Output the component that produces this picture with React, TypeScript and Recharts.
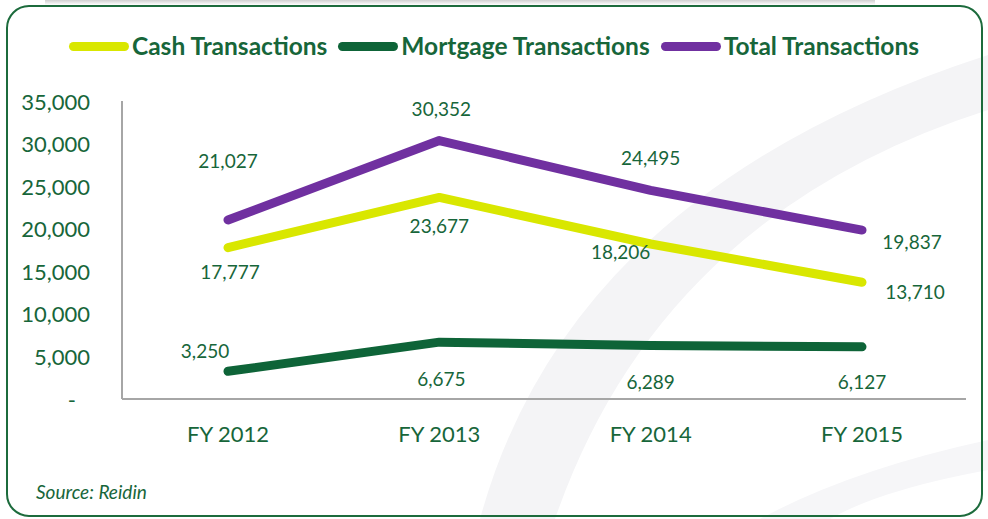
import React from 'react';
import { LineChart, Line, XAxis, YAxis, Legend } from 'recharts';

const categories = ['FY 2012', 'FY 2013', 'FY 2014', 'FY 2015'];
const cashValues = [17777, 23677, 18206, 13710];
const mortgageValues = [3250, 6675, 6289, 6127];
const totalValues = [21027, 30352, 24495, 19837];
const yTicks = [0, 5000, 10000, 15000, 20000, 25000, 30000, 35000];

const seriesNames = {
  cash: 'Cash Transactions',
  mortgage: 'Mortgage Transactions',
  total: 'Total Transactions',
};

const COLORS = {
  cash: '#D9E700',
  mortgage: '#0E6438',
  total: '#7030A0',
  text: '#17663A',
  axis: '#A6A6A6',
};

// label offsets (dx, dy) relative to each point
const cashLabelOffsets = [[2, 24], [0, 28], [-30, 8], [53, 9]];
const mortgageLabelOffsets = [[-23, -21], [2, 36], [0, 36], [0, 35]];
const totalLabelOffsets = [[0, -59], [2, -32], [0, -33], [50, 11]];

const data = categories.map((c, i) => ({
  name: c,
  cash: cashValues[i],
  mortgage: mortgageValues[i],
  total: totalValues[i],
}));

const fmt = (v: number) => v.toLocaleString('en-US');

const makeLabel = (offsets: number[][]) => (props: any) => {
  const { x, y, value, index } = props;
  const [dx, dy] = offsets[index] || [0, 0];
  return (
    <text
      x={x + dx}
      y={y + dy}
      textAnchor="middle"
      dominantBaseline="central"
      fill={COLORS.text}
      fontSize={19}
      fontFamily="Lato"
    >
      {fmt(value)}
    </text>
  );
};

const YTick = (props: any) => {
  const { x, y, payload } = props;
  const v = payload.value;
  return (
    <text
      x={v === 0 ? x - 14 : x}
      y={y}
      textAnchor="end"
      dominantBaseline="central"
      fill={COLORS.text}
      fontSize={22}
      fontFamily="Lato"
    >
      {v === 0 ? '-' : fmt(v)}
    </text>
  );
};

const XTick = (props: any) => {
  const { x, y, payload } = props;
  return (
    <text
      x={x}
      y={y}
      textAnchor="middle"
      dominantBaseline="central"
      fill={COLORS.text}
      fontSize={22}
      fontFamily="Lato"
    >
      {payload.value}
    </text>
  );
};

const LegendContent = () => {
  const items: [string, string][] = [
    [seriesNames.cash, COLORS.cash],
    [seriesNames.mortgage, COLORS.mortgage],
    [seriesNames.total, COLORS.total],
  ];
  return (
    <div style={{ display: 'flex', justifyContent: 'center', alignItems: 'center', width: 988 }}>
      {items.map(([label, color], i) => (
        <div key={label} style={{ display: 'flex', alignItems: 'center', marginLeft: i === 0 ? 0 : 11 }}>
          <span
            style={{
              display: 'inline-block',
              width: 60,
              height: 9,
              borderRadius: 5,
              background: color,
              marginRight: 3,
            }}
          />
          <span
            style={{
              fontFamily: 'Lato',
              fontWeight: 700,
              fontSize: 24.5,
              color: COLORS.text,
              lineHeight: '28px',
            }}
          >
            {label}
          </span>
        </div>
      ))}
    </div>
  );
};

export default function App() {
  return (
    <div style={{ position: 'absolute', left: 0, top: 0, width: 988, height: 519, background: '#fff', overflow: 'hidden', fontFamily: 'Lato' }}>
      <svg width={988} height={519} style={{ position: 'absolute', left: 0, top: 0 }}>
        <defs>
          <linearGradient id="shadowTop" x1="0" y1="0" x2="0" y2="1">
            <stop offset="0%" stopColor="#d0d0d0" />
            <stop offset="100%" stopColor="#ffffff" />
          </linearGradient>
        </defs>
        <rect x={45} y={0} width={830} height={5} fill="url(#shadowTop)" />
        <path d="M 480 519 Q 570 190 988 55 L 988 110 Q 660 215 555 519 Z" fill="#f4f4f6" />
        <path d="M 760 519 Q 850 470 988 440 L 988 470 Q 880 490 830 519 Z" fill="#f6f6f8" />
        <rect x={7} y={6} width={975} height={510} rx={22} ry={22} fill="none" stroke="#1C6B3C" strokeWidth={2} />
      </svg>
      <div style={{ position: 'absolute', left: 0, top: 0 }}>
        <LineChart
          width={988}
          height={519}
          data={data}
          margin={{ top: 101, right: 22, bottom: 90, left: 0 }}
        >
          <XAxis
            dataKey="name"
            height={30}
            tick={<XTick />}
            tickLine={false}
            tickSize={0}
            tickMargin={34}
            axisLine={{ stroke: COLORS.axis, strokeWidth: 2 }}
            padding={{ left: 106, right: 104 }}
            interval={0}
          />
          <YAxis
            width={122}
            domain={[0, 35000]}
            ticks={yTicks}
            tick={<YTick />}
            tickLine={false}
            tickSize={0}
            tickMargin={32}
            axisLine={{ stroke: COLORS.axis, strokeWidth: 2 }}
            allowDataOverflow
          />
          <Legend
            verticalAlign="middle"
            align="center"
            content={<LegendContent />}
            wrapperStyle={{ top: 32, left: 0, width: 988 }}
          />
          <Line
            dataKey="cash"
            name={seriesNames.cash}
            stroke={COLORS.cash}
            strokeWidth={9}
            strokeLinecap="round"
            strokeLinejoin="round"
            dot={false}
            activeDot={false}
            isAnimationActive={false}
            label={makeLabel(cashLabelOffsets)}
          />
          <Line
            dataKey="mortgage"
            name={seriesNames.mortgage}
            stroke={COLORS.mortgage}
            strokeWidth={9}
            strokeLinecap="round"
            strokeLinejoin="round"
            dot={false}
            activeDot={false}
            isAnimationActive={false}
            label={makeLabel(mortgageLabelOffsets)}
          />
          <Line
            dataKey="total"
            name={seriesNames.total}
            stroke={COLORS.total}
            strokeWidth={9}
            strokeLinecap="round"
            strokeLinejoin="round"
            dot={false}
            activeDot={false}
            isAnimationActive={false}
            label={makeLabel(totalLabelOffsets)}
          />
        </LineChart>
      </div>
      <div
        style={{
          position: 'absolute',
          left: 36,
          top: 481,
          fontFamily: 'Lato',
          fontStyle: 'italic',
          fontSize: 19,
          color: COLORS.text,
          lineHeight: '22px',
        }}
      >
        Source: Reidin
      </div>
    </div>
  );
}
